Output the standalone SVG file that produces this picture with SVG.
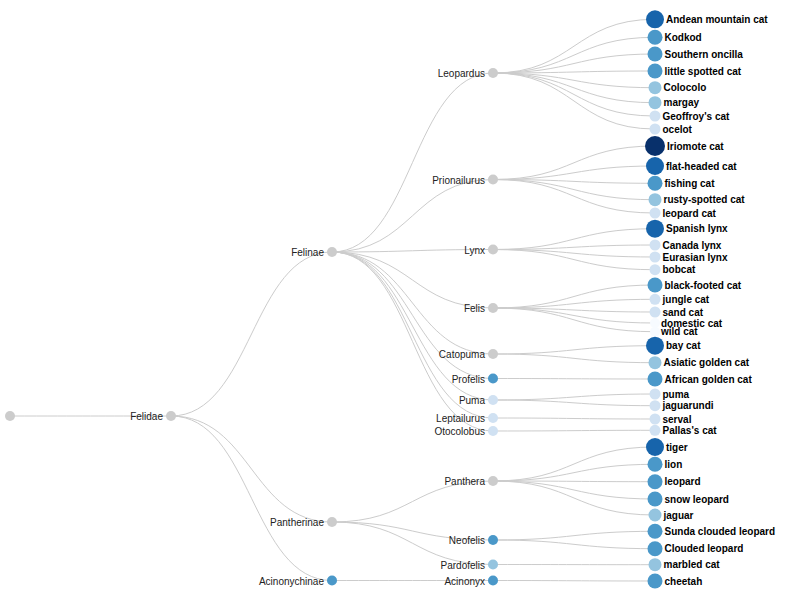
<svg xmlns="http://www.w3.org/2000/svg" width="805" height="600" viewBox="0 0 805 600">
<style>
.link{fill:none;stroke:#ccc;stroke-width:1}
.inner{fill:#ccc}
.il{font-family:"Liberation Sans",Arial,sans-serif;font-size:10px;fill:#222;text-anchor:end}
.ll{font-family:"Liberation Sans",Arial,sans-serif;font-size:10px;font-weight:bold;fill:#000}
.c10{fill:#08306b}.c8{fill:#1764ab}.c6{fill:#4a98c9}.c4{fill:#94c4df}.c2{fill:#d0e1f2}.c0{fill:#f7fbff}
</style>
<rect width="805" height="600" fill="#fff"/>
<g id="links">
<path class="link" d="M10,416 C90.5,416 90.5,416 171,416"/>
<path class="link" d="M171,416 C251.5,416 251.5,252 332,252"/>
<path class="link" d="M171,416 C251.5,416 251.5,522 332,522"/>
<path class="link" d="M171,416 C251.5,416 251.5,580.5 332,580.5"/>
<path class="link" d="M332,252 C412.5,252 412.5,73 493,73"/>
<path class="link" d="M332,252 C412.5,252 412.5,179.5 493,179.5"/>
<path class="link" d="M332,252 C412.5,252 412.5,249.5 493,249.5"/>
<path class="link" d="M332,252 C412.5,252 412.5,308 493,308"/>
<path class="link" d="M332,252 C412.5,252 412.5,354 493,354"/>
<path class="link" d="M332,252 C412.5,252 412.5,378.5 493,378.5"/>
<path class="link" d="M332,252 C412.5,252 412.5,400 493,400"/>
<path class="link" d="M332,252 C412.5,252 412.5,418 493,418"/>
<path class="link" d="M332,252 C412.5,252 412.5,431 493,431"/>
<path class="link" d="M332,522 C412.5,522 412.5,481 493,481"/>
<path class="link" d="M332,522 C412.5,522 412.5,540 493,540"/>
<path class="link" d="M332,522 C412.5,522 412.5,564.5 493,564.5"/>
<path class="link" d="M332,580.5 C412.5,580.5 412.5,580.5 493,580.5"/>
<path class="link" d="M493,73 C574,73 574,19.3 655,19.3"/>
<path class="link" d="M493,73 C574,73 574,37.3 655,37.3"/>
<path class="link" d="M493,73 C574,73 574,54 655,54"/>
<path class="link" d="M493,73 C574,73 574,71 655,71"/>
<path class="link" d="M493,73 C574,73 574,87.7 655,87.7"/>
<path class="link" d="M493,73 C574,73 574,102.7 655,102.7"/>
<path class="link" d="M493,73 C574,73 574,116 655,116"/>
<path class="link" d="M493,73 C574,73 574,129 655,129"/>
<path class="link" d="M493,179.5 C574,179.5 574,146 655,146"/>
<path class="link" d="M493,179.5 C574,179.5 574,166 655,166"/>
<path class="link" d="M493,179.5 C574,179.5 574,183.3 655,183.3"/>
<path class="link" d="M493,179.5 C574,179.5 574,199.7 655,199.7"/>
<path class="link" d="M493,179.5 C574,179.5 574,213 655,213"/>
<path class="link" d="M493,249.5 C574,249.5 574,228.7 655,228.7"/>
<path class="link" d="M493,249.5 C574,249.5 574,245 655,245"/>
<path class="link" d="M493,249.5 C574,249.5 574,257 655,257"/>
<path class="link" d="M493,249.5 C574,249.5 574,269.7 655,269.7"/>
<path class="link" d="M493,308 C574,308 574,285 655,285"/>
<path class="link" d="M493,308 C574,308 574,299.3 655,299.3"/>
<path class="link" d="M493,308 C574,308 574,312 655,312"/>
<path class="link" d="M493,308 C574,308 574,323 655,323"/>
<path class="link" d="M493,308 C574,308 574,331.7 655,331.7"/>
<path class="link" d="M493,354 C574,354 574,345.7 655,345.7"/>
<path class="link" d="M493,354 C574,354 574,362.7 655,362.7"/>
<path class="link" d="M493,378.5 C574,378.5 574,379 655,379"/>
<path class="link" d="M493,400 C574,400 574,394 655,394"/>
<path class="link" d="M493,400 C574,400 574,405.7 655,405.7"/>
<path class="link" d="M493,418 C574,418 574,419 655,419"/>
<path class="link" d="M493,431 C574,431 574,430.3 655,430.3"/>
<path class="link" d="M493,481 C574,481 574,447 655,447"/>
<path class="link" d="M493,481 C574,481 574,464.3 655,464.3"/>
<path class="link" d="M493,481 C574,481 574,481.7 655,481.7"/>
<path class="link" d="M493,481 C574,481 574,499 655,499"/>
<path class="link" d="M493,481 C574,481 574,515 655,515"/>
<path class="link" d="M493,540 C574,540 574,531.3 655,531.3"/>
<path class="link" d="M493,540 C574,540 574,548.7 655,548.7"/>
<path class="link" d="M493,564.5 C574,564.5 574,564.7 655,564.7"/>
<path class="link" d="M493,580.5 C574,580.5 574,581 655,581"/>
</g>
<g id="root"><circle class="inner" cx="10" cy="416" r="5"/></g>
<g id="felidae"><circle class="inner" cx="171" cy="416" r="5"/><text class="il" x="163" y="420">Felidae</text></g>
<g id="felinae"><circle class="inner" cx="332" cy="252" r="5"/><text class="il" x="324" y="256">Felinae</text></g>
<g id="pantherinae"><circle class="inner" cx="332" cy="522" r="5"/><text class="il" x="324" y="526">Pantherinae</text></g>
<g id="acinonychinae"><circle class="c6" cx="332" cy="580.5" r="5"/><text class="il" x="324" y="584.5">Acinonychinae</text></g>
<g id="leopardus"><circle class="inner" cx="493" cy="73" r="5"/><text class="il" x="485" y="77">Leopardus</text></g>
<g id="prionailurus"><circle class="inner" cx="493" cy="179.5" r="5"/><text class="il" x="485" y="183.5">Prionailurus</text></g>
<g id="lynx"><circle class="inner" cx="493" cy="249.5" r="5"/><text class="il" x="485" y="253.5">Lynx</text></g>
<g id="felis"><circle class="inner" cx="493" cy="308" r="5"/><text class="il" x="485" y="312">Felis</text></g>
<g id="catopuma"><circle class="inner" cx="493" cy="354" r="5"/><text class="il" x="485" y="358">Catopuma</text></g>
<g id="profelis"><circle class="c6" cx="493" cy="378.5" r="5"/><text class="il" x="485" y="382.5">Profelis</text></g>
<g id="puma-g"><circle class="c2" cx="493" cy="400" r="5"/><text class="il" x="485" y="404">Puma</text></g>
<g id="leptailurus"><circle class="c2" cx="493" cy="418" r="5"/><text class="il" x="485" y="422">Leptailurus</text></g>
<g id="otocolobus"><circle class="c2" cx="493" cy="431" r="5"/><text class="il" x="485" y="435">Otocolobus</text></g>
<g id="panthera"><circle class="inner" cx="493" cy="481" r="5"/><text class="il" x="485" y="485">Panthera</text></g>
<g id="neofelis"><circle class="c6" cx="493" cy="540" r="5"/><text class="il" x="485" y="544">Neofelis</text></g>
<g id="pardofelis"><circle class="c4" cx="493" cy="564.5" r="5"/><text class="il" x="485" y="568.5">Pardofelis</text></g>
<g id="acinonyx"><circle class="c6" cx="493" cy="580.5" r="5"/><text class="il" x="485" y="584.5">Acinonyx</text></g>
<g id="andean"><circle class="c8" cx="655" cy="19.3" r="9"/><text class="ll" x="666" y="22.8">Andean mountain cat</text></g>
<g id="kodkod"><circle class="c6" cx="655" cy="37.3" r="7.5"/><text class="ll" x="664.5" y="40.8">Kodkod</text></g>
<g id="oncilla"><circle class="c6" cx="655" cy="54" r="7.5"/><text class="ll" x="664.5" y="57.5">Southern oncilla</text></g>
<g id="littlespotted"><circle class="c6" cx="655" cy="71" r="7.5"/><text class="ll" x="664.5" y="74.5">little spotted cat</text></g>
<g id="colocolo"><circle class="c4" cx="655" cy="87.7" r="6.5"/><text class="ll" x="663.5" y="91.2">Colocolo</text></g>
<g id="margay"><circle class="c4" cx="655" cy="102.7" r="6.5"/><text class="ll" x="663.5" y="106.2">margay</text></g>
<g id="geoffroy"><circle class="c2" cx="655" cy="116" r="5.5"/><text class="ll" x="662.5" y="119.5">Geoffroy's cat</text></g>
<g id="ocelot"><circle class="c2" cx="655" cy="129" r="5.5"/><text class="ll" x="662.5" y="132.5">ocelot</text></g>
<g id="iriomote"><circle class="c10" cx="655" cy="146" r="10"/><text class="ll" x="667" y="149.5">Iriomote cat</text></g>
<g id="flatheaded"><circle class="c8" cx="655" cy="166" r="9"/><text class="ll" x="666" y="169.5">flat-headed cat</text></g>
<g id="fishing"><circle class="c6" cx="655" cy="183.3" r="7.5"/><text class="ll" x="664.5" y="186.8">fishing cat</text></g>
<g id="rusty"><circle class="c4" cx="655" cy="199.7" r="6.5"/><text class="ll" x="663.5" y="203.2">rusty-spotted cat</text></g>
<g id="leopardcat"><circle class="c2" cx="655" cy="213" r="5.5"/><text class="ll" x="662.5" y="216.5">leopard cat</text></g>
<g id="spanishlynx"><circle class="c8" cx="655" cy="228.7" r="9"/><text class="ll" x="666" y="232.2">Spanish lynx</text></g>
<g id="canadalynx"><circle class="c2" cx="655" cy="245" r="5.5"/><text class="ll" x="662.5" y="248.5">Canada lynx</text></g>
<g id="eurasianlynx"><circle class="c2" cx="655" cy="257" r="5.5"/><text class="ll" x="662.5" y="260.5">Eurasian lynx</text></g>
<g id="bobcat"><circle class="c2" cx="655" cy="269.7" r="5.5"/><text class="ll" x="662.5" y="273.2">bobcat</text></g>
<g id="blackfooted"><circle class="c6" cx="655" cy="285" r="7.5"/><text class="ll" x="664.5" y="288.5">black-footed cat</text></g>
<g id="junglecat"><circle class="c2" cx="655" cy="299.3" r="5.5"/><text class="ll" x="662.5" y="302.8">jungle cat</text></g>
<g id="sandcat"><circle class="c2" cx="655" cy="312" r="5.5"/><text class="ll" x="662.5" y="315.5">sand cat</text></g>
<g id="domesticcat"><circle class="c0" cx="655" cy="323" r="5"/><text class="ll" x="661" y="326.5">domestic cat</text></g>
<g id="wildcat"><circle class="c0" cx="655" cy="331.7" r="5"/><text class="ll" x="661" y="335.2">wild cat</text></g>
<g id="baycat"><circle class="c8" cx="655" cy="345.7" r="9"/><text class="ll" x="666" y="349.2">bay cat</text></g>
<g id="asiaticgolden"><circle class="c4" cx="655" cy="362.7" r="6.5"/><text class="ll" x="663.5" y="366.2">Asiatic golden cat</text></g>
<g id="africangolden"><circle class="c6" cx="655" cy="379" r="7.5"/><text class="ll" x="664.5" y="382.5">African golden cat</text></g>
<g id="puma"><circle class="c2" cx="655" cy="394" r="5.5"/><text class="ll" x="662.5" y="397.5">puma</text></g>
<g id="jaguarundi"><circle class="c2" cx="655" cy="405.7" r="5.5"/><text class="ll" x="662.5" y="409.2">jaguarundi</text></g>
<g id="serval"><circle class="c2" cx="655" cy="419" r="5.5"/><text class="ll" x="662.5" y="422.5">serval</text></g>
<g id="pallas"><circle class="c2" cx="655" cy="430.3" r="5.5"/><text class="ll" x="662.5" y="433.8">Pallas's cat</text></g>
<g id="tiger"><circle class="c8" cx="655" cy="447" r="9"/><text class="ll" x="666" y="450.5">tiger</text></g>
<g id="lion"><circle class="c6" cx="655" cy="464.3" r="7.5"/><text class="ll" x="664.5" y="467.8">lion</text></g>
<g id="leopard"><circle class="c6" cx="655" cy="481.7" r="7.5"/><text class="ll" x="664.5" y="485.2">leopard</text></g>
<g id="snowleopard"><circle class="c6" cx="655" cy="499" r="7.5"/><text class="ll" x="664.5" y="502.5">snow leopard</text></g>
<g id="jaguar"><circle class="c4" cx="655" cy="515" r="6.5"/><text class="ll" x="663.5" y="518.5">jaguar</text></g>
<g id="sundaclouded"><circle class="c6" cx="655" cy="531.3" r="7.5"/><text class="ll" x="664.5" y="534.8">Sunda clouded leopard</text></g>
<g id="clouded"><circle class="c6" cx="655" cy="548.7" r="7.5"/><text class="ll" x="664.5" y="552.2">Clouded leopard</text></g>
<g id="marbled"><circle class="c4" cx="655" cy="564.7" r="6.5"/><text class="ll" x="663.5" y="568.2">marbled cat</text></g>
<g id="cheetah"><circle class="c6" cx="655" cy="581" r="7.5"/><text class="ll" x="664.5" y="584.5">cheetah</text></g>
</svg>
